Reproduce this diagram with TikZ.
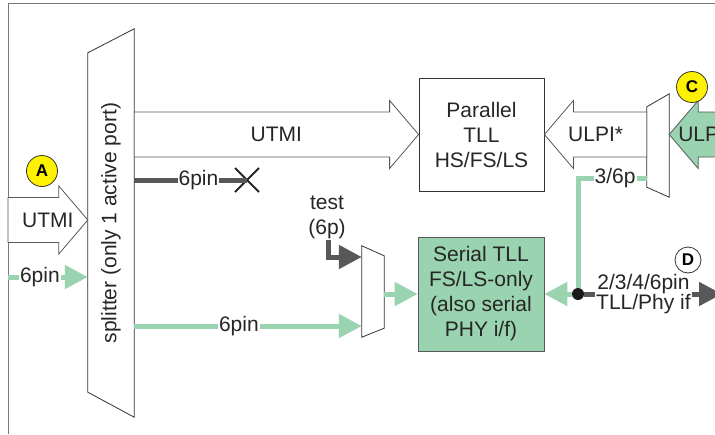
\documentclass[tikz,border=0pt]{standalone}
\usepackage{fontspec}
\setmainfont{Liberation Sans}
\definecolor{tllgreen}{HTML}{99D3AF}
\definecolor{wiregray}{HTML}{58585A}
\definecolor{markyellow}{HTML}{FFF200}
\usepackage{tikz}
\usetikzlibrary{arrows.meta,positioning,calc,shapes.misc}

\newcommand{\fatarrow}[4][]{%
  \path (#2) coordinate (fa0) (#3) coordinate (fa1) ($(fa1)!29pt!(fa0)$) coordinate (fah);
  \draw[fat,#1] ([yshift=22.5pt]fa0) -- ([yshift=22.5pt]fah) -- ([yshift=34pt]fah) -- (fa1)
    -- ([yshift=-34pt]fah) -- ([yshift=-22.5pt]fah) -- ([yshift=-22.5pt]fa0) -- cycle;
  \node[lbl] at ($(fa0)!0.5!(fa1)$) {#4};}

\begin{document}
\begin{tikzpicture}[
  x=1pt, y=-1pt,
  >={Triangle[length=23pt,width=23pt]},
  txt/.style={font=\fontsize{21}{25}\selectfont, text=black!85},
  lbl/.style={txt, inner sep=1pt},
  wlbl/.style={lbl, fill=white},
  fat/.style={draw=wiregray, line width=0.8pt, fill=white},
  gline/.style={->, line width=5pt, tllgreen},
  dline/.style={->, line width=5pt, wiregray},
  blk/.style={draw=black!80, line width=0.8pt, minimum width=125pt, minimum height=113pt,
              align=center, txt},
  muxbody/.style={minimum width=22pt, inner sep=0pt},
  muxline/.style={draw=black!80, line width=0.8pt, fill=white},
  tag/.style={circle, draw=black!80, line width=0.8pt, minimum size=31pt, inner sep=0pt,
              font=\fontsize{17}{20}\selectfont\bfseries},
  dot/.style={circle, fill=black!90, minimum size=12pt, inner sep=0pt}
]
\useasboundingbox (0,0) rectangle (715,434);
\clip (0,0) rectangle (715,434);
\draw[wiregray!80, line width=1pt] (8,434) -- (8,3) -- (715,3);

\node[muxbody, minimum width=46pt, minimum height=388pt] (split) at (111,223) {};
\draw[muxline] (split.north east) -- (split.south east) -- ([yshift=25pt]split.south west)
  -- ([yshift=-24pt]split.north west) -- cycle;
\node[txt, rotate=90] (splitlbl) at (split) {splitter (only 1 active port)};

\node[blk] (ptll) at (481.5,134.5) {Parallel\\TLL\\HS/FS/LS};
\node[blk, fill=tllgreen, draw=wiregray, minimum width=126pt, minimum height=114pt] (stll) at (481,294)
  {Serial TLL\\FS/LS-only\\(also serial\\PHY i/f)};

\node[muxbody, minimum height=103pt] (ulpimux) at (658,145.5) {};
\draw[muxline] (ulpimux.north east) -- (ulpimux.south east) -- ([yshift=10pt]ulpimux.south west)
  -- ([yshift=-13pt]ulpimux.north west) -- cycle;
\node[muxbody, minimum height=91pt] (testmux) at (373,291.5) {};
\draw[muxline] (testmux.north west) -- (testmux.south west) -- ([yshift=9pt]testmux.south east)
  -- ([yshift=-10pt]testmux.north east) -- cycle;

\coordinate (utmiin) at (8,220);
\coordinate (ulpiin) at (734,134.5);
\fatarrow{utmiin}{utmiin -| split.west}{UTMI}
\fatarrow{split.east |- ptll.west}{ptll.west}{UTMI}
\fatarrow{ulpimux.west |- ptll.east}{ptll.east}{ULPI*}
\fatarrow[fill=tllgreen]{ulpiin}{ulpiin -| ulpimux.east}{ULPI}

\node[cross out, draw=black!85, line width=2pt, minimum size=22pt, inner sep=0pt] (xmark) at (247,180) {};
\node[txt, align=center, inner sep=1pt] (testlbl) at (327,217) {test\\(6p)};
\node[dot] (jn) at (578,294) {};
\coordinate (sixin) at (8,277);
\coordinate (phyout) at (722,294);

\draw[gline] (sixin) -- node[wlbl, pos=0.4] {6pin} (sixin -| split.west);
\draw[dline, -] (split.east |- xmark) -- node[wlbl, pos=0.57] {6pin} (xmark.center);
\draw[gline] (split.east |- 0,326) -- node[wlbl, pos=0.46] {6pin} (testmux.west |- 0,326);
\draw[dline] ([xshift=1pt]testlbl.south) |- (testmux.west |- 0,257);
\draw[gline] (testmux.east |- stll.west) -- (stll.west);
\draw[gline] (jn) -- (stll.east);
\draw[gline, -] (jn) |- node[wlbl, pos=0.77] {3/6p} (ulpimux.west |- 0,178);
\draw[dline] (jn) -- node[wlbl, pos=0.43, align=center, font=\fontsize{21}{20}\selectfont]
  {2/3/4/6pin\\TLL/Phy if} (phyout);

\node[tag, fill=markyellow] (tagA) at (42,171) {A};
\node[tag, fill=markyellow] (tagC) at (692,87) {C};
\node[tag, fill=white, minimum size=26pt] (tagD) at (688,260) {D};
\end{tikzpicture}
\end{document}
